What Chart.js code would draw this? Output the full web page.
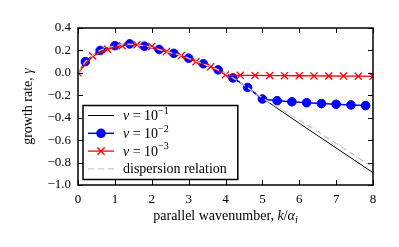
<!DOCTYPE html>
<html>
<head>
<meta charset="utf-8">
<script src="https://cdn.jsdelivr.net/npm/chart.js@4"></script>
<style>
  html, body { margin: 0; padding: 0; background: #fff; }
  #wrap { width: 399px; height: 247px; }
</style>
</head>
<body>
<div id="wrap"><canvas id="grafico"></canvas></div>
<script>
// valores
const kTeoria = [0, 0.2, 0.4, 0.6, 0.8, 1.0, 1.2, 1.4, 1.6, 1.8, 2.0, 2.2, 2.4, 2.6, 2.8, 3.0, 3.2, 3.4, 3.6, 3.8, 4.0, 4.2, 4.4, 4.6, 4.8, 5.0, 6, 7, 8];
const gammaNu1 = [0, 0.1, 0.155, 0.2, 0.225, 0.242, 0.252, 0.256, 0.25, 0.24, 0.226, 0.208, 0.19, 0.172, 0.152, 0.13, 0.105, 0.08, 0.055, 0.028, -0.005, -0.045, -0.087, -0.13, -0.18, -0.225, -0.45, -0.67, -0.89];

const kDisp = [0, 0.2, 0.4, 0.6, 0.8, 1.0, 1.2, 1.4, 1.6, 1.8, 2.0, 2.2, 2.4, 2.6, 2.8, 3.0, 3.2, 3.4, 3.6, 3.8, 4.0, 4.2, 4.4, 4.6, 4.8, 5.0, 5.5, 6, 7, 8];
const gammaDisp = [0, 0.1, 0.155, 0.2, 0.225, 0.242, 0.252, 0.256, 0.25, 0.24, 0.226, 0.208, 0.19, 0.172, 0.152, 0.13, 0.105, 0.08, 0.055, 0.028, -0.005, -0.045, -0.087, -0.13, -0.18, -0.222, -0.325, -0.42, -0.63, -0.84];

const kNu2 = [0.2, 0.6, 1.0, 1.4, 1.8, 2.2, 2.6, 3.0, 3.4, 3.8, 4.2, 4.6, 5.0, 5.4, 5.8, 6.2, 6.6, 7.0, 7.4, 7.8];
const gammaNu2 = [0.1, 0.2, 0.242, 0.258, 0.238, 0.209, 0.174, 0.131, 0.081, 0.027, -0.045, -0.13, -0.233, -0.248, -0.258, -0.266, -0.274, -0.28, -0.286, -0.292];

const kNu3 = [0, 0.4, 0.8, 1.2, 1.6, 2.0, 2.4, 2.8, 3.2, 3.6, 4.0, 4.4, 4.8, 5.2, 5.6, 6.0, 6.4, 6.8, 7.2, 7.6, 8.0];
const gammaNu3 = [0, 0.15, 0.21, 0.242, 0.25, 0.236, 0.19, 0.152, 0.1, 0.055, -0.018, -0.022, -0.023, -0.024, -0.025, -0.026, -0.027, -0.028, -0.029, -0.03, -0.031];

const exponentes = ['−1', '−2', '−3'];
const etiquetaDisp = 'dispersion relation';
const xTicks = [0, 1, 2, 3, 4, 5, 6, 7, 8];
const yTicks = [-1.0, -0.8, -0.6, -0.4, -0.2, 0.0, 0.2, 0.4];

const serif = '"Liberation Serif", "DejaVu Serif", serif';

const pares = (xs, ys) => xs.map((x, i) => ({ x: x, y: ys[i] }));

// texto con trozos en cursiva / superindice / subindice
function textoMixto(ctx, partes, size) {
  let ancho = 0;
  partes.forEach(p => {
    const s = p.sup || p.sub ? size * 0.72 : size;
    ctx.font = (p.it ? 'italic ' : '') + s + 'px ' + serif;
    p.w = ctx.measureText(p.t).width;
    p.s = s;
    ancho += p.w;
  });
  return ancho;
}
function dibujaMixto(ctx, partes, x, y) {
  ctx.textAlign = 'left';
  ctx.textBaseline = 'alphabetic';
  partes.forEach(p => {
    ctx.font = (p.it ? 'italic ' : '') + p.s + 'px ' + serif;
    let dy = 0;
    if (p.sup) dy = -p.s * 0.62;
    if (p.sub) dy = p.s * 0.3;
    ctx.fillText(p.t, x, y + dy);
    x += p.w;
  });
}

const marco = {
  id: 'marco',
  afterDatasetsDraw(chart) {
    const ctx = chart.ctx;
    const a = chart.chartArea;
    const sx = chart.scales.x, sy = chart.scales.y;
    ctx.save();
    ctx.strokeStyle = '#000';
    ctx.lineWidth = 1;
    ctx.beginPath();
    xTicks.forEach(v => {
      const px = Math.round(sx.getPixelForValue(v)) + 0.5;
      ctx.moveTo(px, a.bottom); ctx.lineTo(px, a.bottom - 5);
      ctx.moveTo(px, a.top); ctx.lineTo(px, a.top + 5);
    });
    yTicks.forEach(v => {
      const py = Math.round(sy.getPixelForValue(v)) + 0.5;
      ctx.moveTo(a.left, py); ctx.lineTo(a.left + 5, py);
      ctx.moveTo(a.right, py); ctx.lineTo(a.right - 5, py);
    });
    ctx.stroke();
    ctx.lineWidth = 1.5;
    ctx.strokeRect(a.left, a.top, a.right - a.left, a.bottom - a.top);

    // leyenda abajo a la izquierda
    const ds = chart.data.datasets;
    const filas = [
      [{ t: 'ν', it: true }, { t: ' = 10' }, { t: exponentes[0], sup: true }],
      [{ t: 'ν', it: true }, { t: ' = 10' }, { t: exponentes[1], sup: true }],
      [{ t: 'ν', it: true }, { t: ' = 10' }, { t: exponentes[2], sup: true }],
      [{ t: etiquetaDisp }]
    ];
    const fs = 14;
    let maxW = 0;
    filas.forEach(f => { maxW = Math.max(maxW, textoMixto(ctx, f, fs)); });
    const bx = a.left + 5, by2 = a.bottom - 5.5;
    const rowH = 17.8;
    const bh = 74, bw = 40 + maxW + 11;
    const by = by2 - bh;
    ctx.fillStyle = '#fff';
    ctx.fillRect(bx, by, bw, bh);
    ctx.lineWidth = 1.5;
    ctx.strokeStyle = '#000';
    ctx.strokeRect(bx, by, bw, bh);
    [0, 1, 2, 3].forEach((di, i) => {
      const d = ds[di];
      const cy = by + 10 + i * rowH;
      ctx.save();
      ctx.strokeStyle = d.borderColor;
      ctx.lineWidth = d.borderWidth;
      ctx.setLineDash(d.borderDash || []);
      ctx.beginPath();
      ctx.moveTo(bx + 5, cy); ctx.lineTo(bx + 31, cy);
      ctx.stroke();
      ctx.restore();
      if (d.pointRadius > 0) {
        ctx.save();
        ctx.strokeStyle = d.pointBorderColor || d.borderColor;
        ctx.fillStyle = d.pointBackgroundColor || d.borderColor;
        ctx.lineWidth = d.pointBorderWidth || 1;
        if (d.pointStyle === 'circle') {
          ctx.beginPath(); ctx.arc(bx + 18, cy, d.pointRadius + 0.5, 0, Math.PI * 2); ctx.fill();
        } else {
          const r = d.pointRadius * 0.72;
          ctx.beginPath();
          ctx.moveTo(bx + 18 - r, cy - r); ctx.lineTo(bx + 18 + r, cy + r);
          ctx.moveTo(bx + 18 + r, cy - r); ctx.lineTo(bx + 18 - r, cy + r);
          ctx.stroke();
        }
        ctx.restore();
      }
      ctx.fillStyle = '#000';
      dibujaMixto(ctx, filas[i], bx + 40, cy + 4.5);
    });

    // titulos de los ejes
    ctx.fillStyle = '#000';
    const tx = [{ t: 'parallel wavenumber, ' }, { t: 'k', it: true }, { t: '/' }, { t: 'α', it: true }, { t: 'i', it: true, sub: true }];
    const wx = textoMixto(ctx, tx, fs);
    dibujaMixto(ctx, tx, (a.left + a.right) / 2 - wx / 2, a.bottom + 35);
    const ty = [{ t: 'growth rate, ' }, { t: 'γ', it: true }];
    const wy = textoMixto(ctx, ty, fs);
    ctx.translate(32, (a.top + a.bottom) / 2);
    ctx.rotate(-Math.PI / 2);
    dibujaMixto(ctx, ty, -wy / 2, 0);
    ctx.restore();
  }
};

new Chart(document.getElementById('grafico'), {
  type: 'line',
  data: {
    datasets: [
      {
        label: 'ν = 10⁻¹',
        data: pares(kTeoria, gammaNu1),
        borderColor: '#000000',
        borderWidth: 1,
        pointRadius: 0,
        cubicInterpolationMode: 'monotone',
        order: 4
      },
      {
        label: 'ν = 10⁻²',
        data: pares(kNu2, gammaNu2),
        borderColor: '#0000ff',
        backgroundColor: '#0000ff',
        pointBackgroundColor: '#0000ff',
        pointBorderColor: '#0000ff',
        borderWidth: 1.5,
        pointStyle: 'circle',
        pointRadius: 4.3,
        pointBorderWidth: 1,
        order: 3
      },
      {
        label: 'ν = 10⁻³',
        data: pares(kNu3, gammaNu3),
        borderColor: '#ff0000',
        backgroundColor: '#ff0000',
        pointBorderColor: '#ff0000',
        borderWidth: 1.3,
        pointStyle: 'crossRot',
        pointRadius: 5,
        pointBorderWidth: 1.3,
        order: 2
      },
      {
        label: etiquetaDisp,
        data: pares(kDisp, gammaDisp),
        borderColor: '#c8c8c8',
        borderWidth: 1.3,
        borderDash: [6, 4],
        pointRadius: 0,
        cubicInterpolationMode: 'monotone',
        order: 1
      }
    ]
  },
  options: {
    responsive: true,
    maintainAspectRatio: false,
    animation: false,
    layout: { padding: { top: 28, right: 26, left: 0, bottom: 0 } },
    plugins: {
      legend: { display: false },
      tooltip: { enabled: false }
    },
    scales: {
      x: {
        type: 'linear',
        min: 0,
        max: 8,
        afterFit: s => { s.height = 62; },
        afterBuildTicks: s => { s.ticks = xTicks.map(v => ({ value: v })); },
        grid: { display: false, drawTicks: false },
        border: { display: false },
        ticks: {
          padding: 7,
          color: '#000',
          font: { family: serif, size: 13 },
          callback: v => String(v)
        }
      },
      y: {
        min: -1.0,
        max: 0.4,
        afterFit: s => { s.width = 78; },
        afterBuildTicks: s => { s.ticks = yTicks.map(v => ({ value: v })); },
        grid: { display: false, drawTicks: false },
        border: { display: false },
        ticks: {
          padding: 7,
          color: '#000',
          font: { family: serif, size: 13 },
          callback: v => (Math.abs(v) < 1e-9 ? '0.0' : (v < 0 ? '−' : '') + Math.abs(v).toFixed(1))
        }
      }
    }
  },
  plugins: [marco]
});
</script>
</body>
</html>
